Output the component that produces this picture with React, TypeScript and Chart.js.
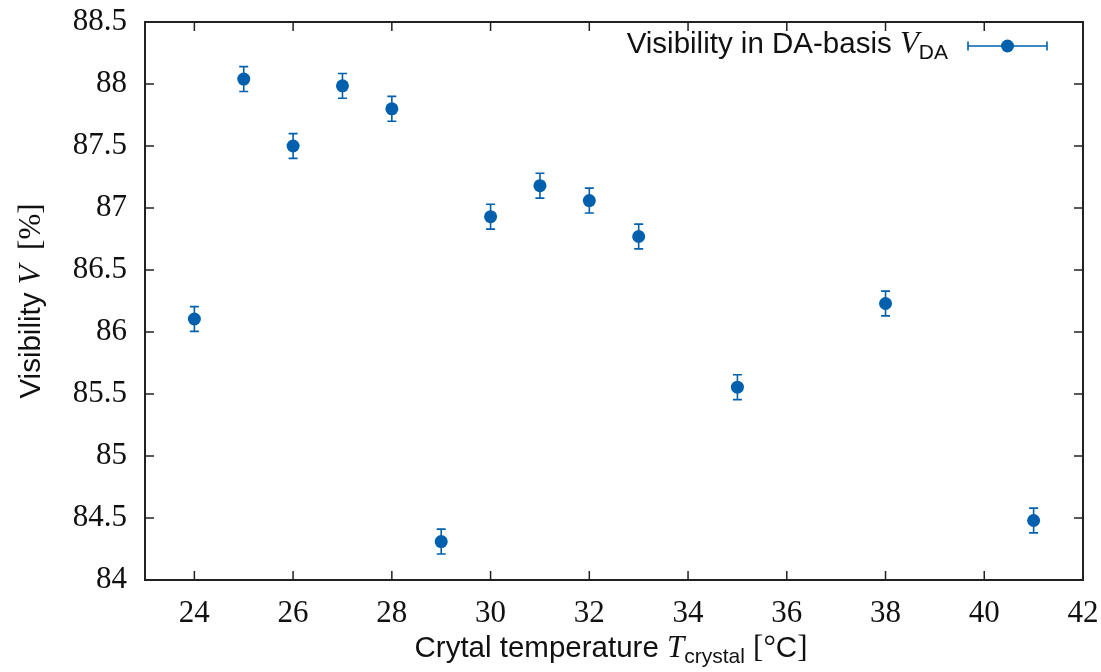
import React, { useEffect, useRef } from "react";
import { Chart, registerables } from "chart.js";

Chart.register(...registerables);

// ---- data ----
const temperatures = [24, 25, 26, 27, 28, 29, 30, 31, 32, 33, 35, 38, 41];
const visibility = [86.105, 88.04, 87.5, 87.985, 87.8, 84.31, 86.93, 87.18, 87.06, 86.77, 85.555, 86.23, 84.48];
const visibilityErr = [0.1, 0.1, 0.1, 0.1, 0.1, 0.1, 0.1, 0.1, 0.1, 0.1, 0.1, 0.1, 0.1];
const xTickValues = [24, 26, 28, 30, 32, 34, 36, 38, 40, 42];
const yTickValues = [84, 84.5, 85, 85.5, 86, 86.5, 87, 87.5, 88, 88.5];
const yTickLabels = ["84", "84.5", "85", "85.5", "86", "86.5", "87", "87.5", "88", "88.5"];

const BLUE = "#0060ad";
const INK = "#111111";
const SANS = "'Liberation Sans', Arial, sans-serif";
const SERIF = "'Liberation Serif', 'Times New Roman', serif";

type Seg = { t: string; font: string; dy?: number };

function drawSegs(ctx: CanvasRenderingContext2D, segs: Seg[], x: number, y: number, align: "left" | "center" | "right") {
  ctx.save();
  ctx.textAlign = "left";
  ctx.textBaseline = "alphabetic";
  let total = 0;
  const widths = segs.map((s) => {
    ctx.font = s.font;
    const w = ctx.measureText(s.t).width;
    total += w;
    return w;
  });
  let cx = align === "left" ? x : align === "center" ? x - total / 2 : x - total;
  segs.forEach((s, i) => {
    ctx.font = s.font;
    ctx.fillText(s.t, cx, y + (s.dy || 0));
    cx += widths[i];
  });
  ctx.restore();
}

const decorPlugin = {
  id: "decor",
  beforeDatasetsDraw(chart: any) {
    const ctx = chart.ctx as CanvasRenderingContext2D;
    const xs = chart.scales.x;
    const ys = chart.scales.y;
    ctx.save();
    ctx.strokeStyle = BLUE;
    ctx.lineWidth = 1.6;
    const cap = 4.5;
    temperatures.forEach((t, i) => {
      const px = xs.getPixelForValue(t);
      const y1 = ys.getPixelForValue(visibility[i] + visibilityErr[i]);
      const y2 = ys.getPixelForValue(visibility[i] - visibilityErr[i]);
      ctx.beginPath();
      ctx.moveTo(px, y1);
      ctx.lineTo(px, y2);
      ctx.moveTo(px - cap, y1);
      ctx.lineTo(px + cap, y1);
      ctx.moveTo(px - cap, y2);
      ctx.lineTo(px + cap, y2);
      ctx.stroke();
    });
    ctx.restore();
  },
  afterDraw(chart: any) {
    const ctx = chart.ctx as CanvasRenderingContext2D;
    const { left, right, top, bottom } = chart.chartArea;
    const xs = chart.scales.x;
    const ys = chart.scales.y;
    ctx.save();
    // frame
    ctx.strokeStyle = "#222222";
    ctx.lineWidth = 2;
    ctx.strokeRect(left, top, right - left, bottom - top);
    // inward ticks
    const tl = 9;
    ctx.lineWidth = 1.5;
    ctx.beginPath();
    xTickValues.forEach((v) => {
      const px = xs.getPixelForValue(v);
      ctx.moveTo(px, bottom);
      ctx.lineTo(px, bottom - tl);
      ctx.moveTo(px, top);
      ctx.lineTo(px, top + tl);
    });
    yTickValues.forEach((v) => {
      const py = ys.getPixelForValue(v);
      ctx.moveTo(left, py);
      ctx.lineTo(left + tl, py);
      ctx.moveTo(right, py);
      ctx.lineTo(right - tl, py);
    });
    ctx.stroke();

    ctx.fillStyle = INK;
    // x title
    drawSegs(
      ctx,
      [
        { t: "Crytal temperature ", font: `29.5px ${SANS}` },
        { t: "T", font: `italic 31px ${SERIF}` },
        { t: "crystal", font: `21px ${SANS}`, dy: 6 },
        { t: " ", font: `29.5px ${SANS}` },
        { t: "[°", font: `31px ${SERIF}` },
        { t: "C", font: `29.5px ${SANS}` },
        { t: "]", font: `31px ${SERIF}` },
      ],
      (left + right) / 2 - 3,
      657,
      "center"
    );
    // y title
    ctx.save();
    ctx.translate(40, (top + bottom) / 2);
    ctx.rotate(-Math.PI / 2);
    drawSegs(
      ctx,
      [
        { t: "Visibility ", font: `29.5px ${SANS}` },
        { t: "V", font: `italic 31px ${SERIF}` },
        { t: "  [%]", font: `31px ${SERIF}` },
      ],
      0,
      0,
      "center"
    );
    ctx.restore();

    // legend
    drawSegs(
      ctx,
      [
        { t: "Visibility in DA-basis ", font: `29.5px ${SANS}` },
        { t: "V", font: `italic 31px ${SERIF}` },
        { t: "DA", font: `21px ${SANS}`, dy: 6 },
      ],
      948,
      53,
      "right"
    );
    const ly = 46;
    const lx1 = 968;
    const lx2 = 1047;
    ctx.strokeStyle = BLUE;
    ctx.lineWidth = 1.6;
    ctx.beginPath();
    ctx.moveTo(lx1, ly);
    ctx.lineTo(lx2, ly);
    ctx.moveTo(lx1, ly - 4.5);
    ctx.lineTo(lx1, ly + 4.5);
    ctx.moveTo(lx2, ly - 4.5);
    ctx.lineTo(lx2, ly + 4.5);
    ctx.stroke();
    ctx.fillStyle = BLUE;
    ctx.beginPath();
    ctx.arc((lx1 + lx2) / 2, ly, 6.5, 0, Math.PI * 2);
    ctx.fill();
    ctx.restore();
  },
};

function zeroPad(s: any) {
  s.paddingTop = 0;
  s.paddingBottom = 0;
  s.paddingLeft = 0;
  s.paddingRight = 0;
}

export default function App() {
  const canvasRef = useRef<HTMLCanvasElement | null>(null);

  useEffect(() => {
    document.body.style.margin = "0";
    const canvas = canvasRef.current;
    if (!canvas) return;
    const chart = new Chart(canvas, {
      type: "scatter",
      data: {
        datasets: [
          {
            label: "Visibility in DA-basis V_DA",
            data: temperatures.map((t, i) => ({ x: t, y: visibility[i] })),
            backgroundColor: BLUE,
            borderColor: BLUE,
            pointRadius: 6.5,
            pointBorderWidth: 0,
            pointHoverRadius: 6.5,
          },
        ],
      },
      options: {
        animation: false,
        responsive: true,
        maintainAspectRatio: false,
        events: [],
        layout: { padding: { top: 22, right: 18, left: 0, bottom: 0 } },
        plugins: {
          legend: { display: false },
          tooltip: { enabled: false },
        },
        scales: {
          x: {
            type: "linear",
            min: 23,
            max: 42,
            grid: { display: false, drawTicks: false },
            border: { display: false },
            afterBuildTicks: (s: any) => {
              s.ticks = xTickValues.map((v) => ({ value: v }));
            },
            afterFit: (s: any) => {
              s.height = 92;
              zeroPad(s);
            },
            ticks: {
              padding: 15,
              color: INK,
              font: { family: SERIF, size: 31 },
              maxRotation: 0,
              autoSkip: false,
              callback: (v: any) => String(v),
            },
          },
          y: {
            type: "linear",
            min: 84,
            max: 88.5,
            grid: { display: false, drawTicks: false },
            border: { display: false },
            afterBuildTicks: (s: any) => {
              s.ticks = yTickValues.map((v) => ({ value: v }));
            },
            afterFit: (s: any) => {
              s.width = 145;
              zeroPad(s);
            },
            ticks: {
              padding: 18,
              color: INK,
              font: { family: SERIF, size: 31 },
              autoSkip: false,
              callback: (v: any) => {
                const i = yTickValues.indexOf(Number(v));
                return i >= 0 ? yTickLabels[i] : "";
              },
            },
          },
        },
      },
      plugins: [decorPlugin],
    });
    return () => chart.destroy();
  }, []);

  return (
    <div style={{ position: "absolute", left: 0, top: 0, width: "1101px", height: "672px" }}>
      <canvas ref={canvasRef} />
    </div>
  );
}
